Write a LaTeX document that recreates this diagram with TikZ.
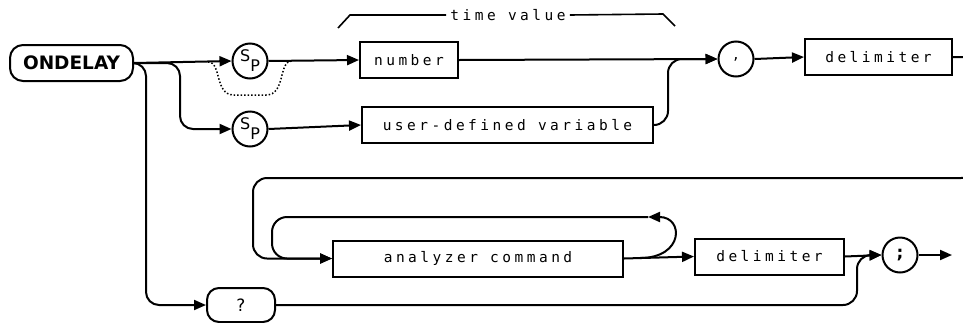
\documentclass[tikz,border=0pt]{standalone}
\usepackage{fontspec}
\usetikzlibrary{arrows.meta}
\newfontfamily\lblfont[LetterSpace=24]{DejaVu Sans Mono}
\newfontfamily\sfont{DejaVu Sans}
\newcommand\spmark{{\sfont\fontsize{16}{16}\selectfont\raisebox{3pt}{S}\raisebox{-7pt}{P}}}
\tikzset{
  line/.style={line width=2pt, line join=round},
  conn/.style={line, -{Triangle[length=12pt,width=10pt]}},
  box/.style={draw, line width=2pt, minimum height=36pt, inner sep=0pt, font=\lblfont\fontsize{14.5}{14.5}\selectfont},
  rbox/.style={draw, line width=2pt, rounded corners=13pt, inner sep=0pt},
  circ/.style={draw, circle, line width=2pt, minimum size=35pt, inner sep=0pt},
}
\begin{document}
\begin{tikzpicture}[x=1pt,y=-1pt]
\useasboundingbox (0,0) rectangle (963,322);
\clip (0,0) rectangle (963,322);
% nodes
\node[rbox, minimum width=123pt, minimum height=36pt, font=\sfont\bfseries\fontsize{18.5}{18.5}\selectfont] (ond) at (71.5,63) {ONDELAY};
\node[circ] (sp1) at (250,61) {\spmark};
\node[circ] (sp2) at (250,129) {\spmark};
\node[box, minimum width=98pt] (num) at (409,60) {number};
\node[box, minimum width=291pt] (udv) at (507.5,125) {user-defined variable};
\node[circ, font=\sfont\fontsize{16}{16}\selectfont] (com) at (736,59) {,};
\node[box, minimum width=147pt] (del1) at (878.5,57) {delimiter};
\node[box, minimum width=290pt] (ac) at (478,258.5) {analyzer command};
\node[box, minimum width=149pt] (del2) at (769.5,256.5) {delimiter};
\node[circ, font=\sfont\bfseries\fontsize{17}{17}\selectfont] (semi) at (900,255) {;};
\node[rbox, rounded corners=12pt, minimum width=68pt, minimum height=34pt, font=\sfont\fontsize{17}{17}\selectfont] (q) at (241,305) {?};
\node[inner sep=4pt, font=\lblfont\fontsize{14.5}{14.5}\selectfont] (tv) at (508,15) {time value};
\coordinate (endp) at (952,255);
\coordinate (lp) at (648,217);
% time value bracket
\draw[line width=1.6pt] (338,28) -- (350,15) -- (tv.west);
\draw[line width=1.6pt] (tv.east) -- (663,14) -- (675,26);
% connectors
\draw[conn] (ond.east) -- (sp1.west);
\draw[conn, rounded corners=13pt] (ond.east) -| (180,129) -- (sp2.west);
\draw[conn, rounded corners=13pt] (ond.east) -| (146,305) -- (q.west);
\draw[line width=1.5pt, dotted] (208,62) .. controls (222,62) and (214,95) .. (234,95) -- (266,95) .. controls (286,95) and (278,61) .. (292,61);
\draw[conn] (sp1.east) -- (num.west);
\draw[conn] (sp2.east) -- (udv.west);
\draw[conn] (num.east) -- (com.west);
\draw[conn, rounded corners=14pt] (udv.east) -| (668,59) -- (com.west);
\draw[conn] (com.east) -- (del1.west);
\draw[conn, rounded corners=14pt] (del1.east) -| (975,178) -| (253,258.5) -- (ac.west);
\draw[conn, rounded corners=15pt] (lp) -| (272,258.5) -- (ac.west);
\draw[conn] (ac.east) -- (del2.west);
\draw[conn] (640,258) .. controls (684,258) and (684,217) .. (lp);
\draw[conn] (del2.east) -- (semi.west);
\draw[conn, rounded corners=14pt] (q.east) -| (857,255) -- (semi.west);
\draw[conn] (semi.east) -- (endp);
\end{tikzpicture}
\end{document}
